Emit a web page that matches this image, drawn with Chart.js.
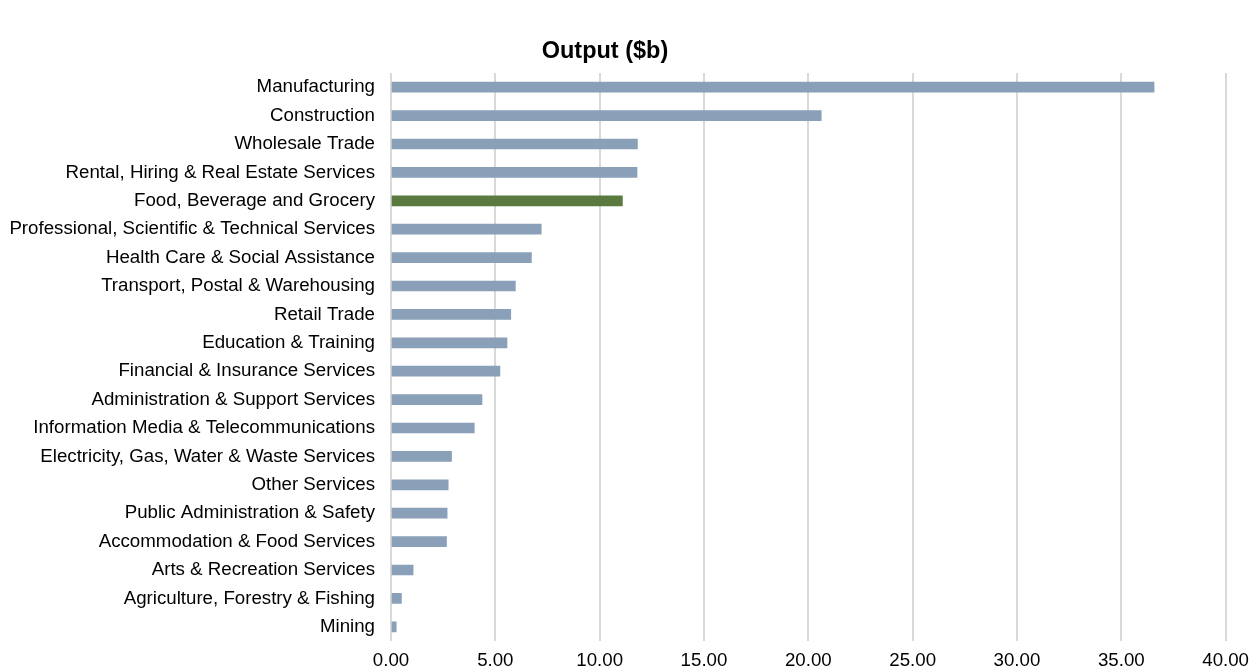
<!DOCTYPE html>
<html>
<head>
<meta charset="utf-8">
<script src="https://cdn.jsdelivr.net/npm/chart.js@4/dist/chart.umd.min.js"></script>
<style>
  html, body { margin: 0; padding: 0; background: #fff; }
  #wrap { width: 1258px; height: 671px; }
</style>
</head>
<body>
<div id="wrap"><canvas id="outputChart"></canvas></div>
<script>
// sectoren en output in miljarden
const sectors = [
  'Manufacturing',
  'Construction',
  'Wholesale Trade',
  'Rental, Hiring & Real Estate Services',
  'Food, Beverage and Grocery',
  'Professional, Scientific & Technical Services',
  'Health Care & Social Assistance',
  'Transport, Postal & Warehousing',
  'Retail Trade',
  'Education & Training',
  'Financial & Insurance Services',
  'Administration & Support Services',
  'Information Media & Telecommunications',
  'Electricity, Gas, Water & Waste Services',
  'Other Services',
  'Public Administration & Safety',
  'Accommodation & Food Services',
  'Arts & Recreation Services',
  'Agriculture, Forestry & Fishing',
  'Mining'
];
const outputValues = [36.57, 20.62, 11.81, 11.79, 11.09, 7.20, 6.73, 5.96, 5.74, 5.56,
  5.22, 4.36, 3.99, 2.90, 2.74, 2.69, 2.66, 1.06, 0.50, 0.25];
const highlightSector = 'Food, Beverage and Grocery';
const xTicks = [0, 5, 10, 15, 20, 25, 30, 35, 40];
const chartTitle = 'Output ($b)';

// groen voor de uitgelichte sector, de rest blauwgrijs
const barColors = sectors.map(s => s === highlightSector ? '#5a7a40' : '#8a9fb8');

const fontFamily = '"Liberation Sans", Arial, sans-serif';

// titel staat niet in het midden van het canvas, dus zelf tekenen
const titlePlugin = {
  id: 'offsetTitle',
  afterDraw(chart) {
    const c = chart.ctx;
    c.save();
    c.font = 'bold 23.5px ' + fontFamily;
    c.fillStyle = '#000';
    c.textAlign = 'center';
    c.textBaseline = 'middle';
    c.fillText(chartTitle, 605, 52);
    c.restore();
  }
};

const ctx = document.getElementById('outputChart').getContext('2d');
new Chart(ctx, {
  type: 'bar',
  data: {
    labels: sectors,
    datasets: [{
      label: chartTitle,
      data: outputValues,
      backgroundColor: barColors,
      borderWidth: 0,
      barThickness: 10
    }]
  },
  plugins: [titlePlugin],
  options: {
    indexAxis: 'y',
    responsive: true,
    maintainAspectRatio: false,
    animation: false,
    layout: { padding: { left: 8, right: 19, top: 73, bottom: 0 } },
    plugins: {
      legend: { display: false },
      tooltip: { enabled: false },
      title: { display: false }
    },
    scales: {
      x: {
        min: 0,
        max: 40,
        afterBuildTicks: axis => { axis.ticks = xTicks.map(v => ({ value: v })); },
        afterFit: axis => { axis.height = 30; },
        grid: { color: '#d9d9d9', lineWidth: 2, drawTicks: false },
        border: { display: false },
        ticks: {
          color: '#000',
          padding: 9,
          font: { family: fontFamily, size: 18.7 },
          callback: v => v.toFixed(2)
        }
      },
      y: {
        afterFit: axis => { axis.width = 383; }, // vaste breedte voor de labels
        grid: { display: false, drawTicks: false },
        border: { display: false },
        ticks: {
          color: '#000',
          padding: 16,
          autoSkip: false,
          font: { family: fontFamily, size: 18.7 }
        }
      }
    }
  }
});
</script>
</body>
</html>
